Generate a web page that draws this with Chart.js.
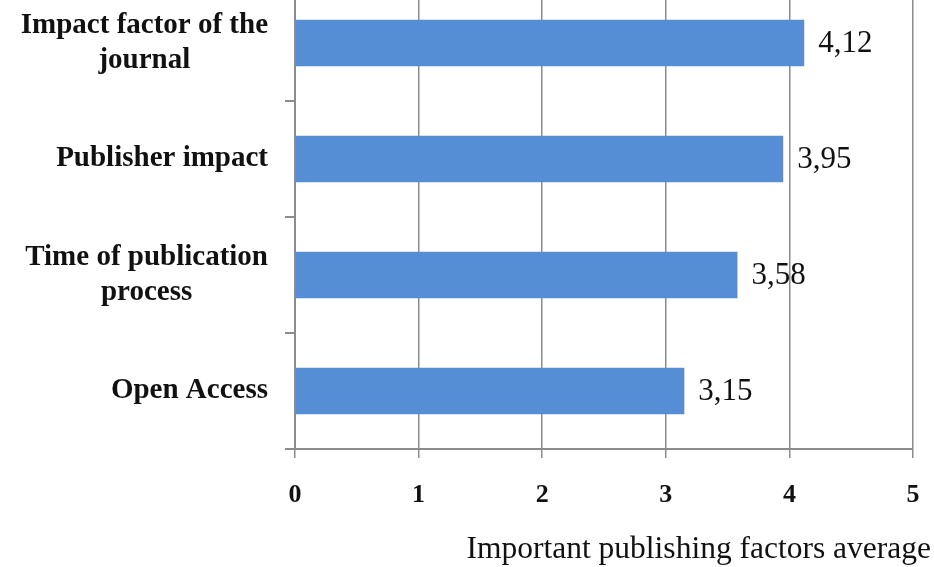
<!DOCTYPE html>
<html>
<head>
<meta charset="utf-8">
<script src="https://cdn.jsdelivr.net/npm/chart.js@4.4.1/dist/chart.umd.min.js"></script>
<style>
  html, body { margin: 0; padding: 0; background: #fff; overflow: hidden; }
  #wrap { position: absolute; left: 0; top: -27px; width: 934px; height: 594px; }
</style>
</head>
<body>
<div id="wrap"><canvas id="chart" width="934" height="594"></canvas></div>
<script>
// categories (top to bottom) and averages
const categories = [
  ["Impact factor of the", "journal"],
  ["Publisher impact"],
  ["Time of publication", "process"],
  ["Open Access"]
];
const averages = [4.12, 3.95, 3.58, 3.15];
const valueLabels = ["4,12", "3,95", "3,58", "3,15"];
const xTicks = [0, 1, 2, 3, 4, 5];
const xTitle = "Important publishing factors average";

const serif = '"Liberation Serif", "Times New Roman", serif';

// draws the category labels, value labels and axis title as text
const textPlugin = {
  id: 'textPlugin',
  afterDraw(chart) {
    const ctx = chart.ctx;
    const y = chart.scales.y;
    ctx.save();
    ctx.fillStyle = '#111';

    // category labels: single lines right aligned, wrapped lines centred on each other
    ctx.font = 'bold 29px ' + serif;
    ctx.textBaseline = 'middle';
    ctx.textAlign = 'center';
    categories.forEach((lines, i) => {
      const cy = y.getPixelForValue(i);
      const widths = lines.map(l => ctx.measureText(l).width);
      const block = Math.max(...widths);
      const cx = 268 - block / 2;
      const lh = 35;
      lines.forEach((l, k) => {
        ctx.fillText(l, cx, cy + (k - (lines.length - 1) / 2) * lh);
      });
    });

    // value labels next to bars
    ctx.font = '31px ' + serif;
    ctx.textAlign = 'left';
    chart.getDatasetMeta(0).data.forEach((bar, i) => {
      ctx.fillText(valueLabels[i], bar.x + 14, bar.y + 1);
    });

    // axis title
    ctx.font = '31.5px ' + serif;
    ctx.textAlign = 'right';
    ctx.textBaseline = 'alphabetic';
    ctx.fillText(xTitle, 931, 585);
    ctx.restore();
  }
};

new Chart(document.getElementById('chart'), {
  type: 'bar',
  data: {
    labels: categories,
    datasets: [{
      data: averages,
      backgroundColor: '#558ED5',
      borderWidth: 0,
      barPercentage: 0.4,
      categoryPercentage: 1.0
    }]
  },
  options: {
    indexAxis: 'y',
    responsive: false,
    animation: false,
    layout: { padding: { top: 12, right: 21, left: 0, bottom: 0 } },
    plugins: { legend: { display: false }, tooltip: { enabled: false } },
    scales: {
      x: {
        min: 0,
        max: 5,
        afterBuildTicks(scale) { scale.ticks = xTicks.map(v => ({ value: v })); },
        afterFit(scale) {
          scale.height = 118;
          scale.paddingLeft = 0;
          scale.paddingRight = 0;
        },
        grid: { color: '#8c8c8c', lineWidth: 1.5, tickLength: 9, tickColor: '#8c8c8c' },
        border: { color: '#8c8c8c', width: 2 },
        ticks: {
          padding: 22,
          color: '#111',
          font: { family: serif, size: 26, weight: 'bold' }
        }
      },
      y: {
        afterFit(scale) { scale.width = 295; },
        grid: { offset: true, drawOnChartArea: false, tickLength: 10, tickColor: '#8c8c8c', lineWidth: 2 },
        border: { color: '#8c8c8c', width: 2 },
        ticks: { display: false }
      }
    }
  },
  plugins: [textPlugin]
});
</script>
</body>
</html>
